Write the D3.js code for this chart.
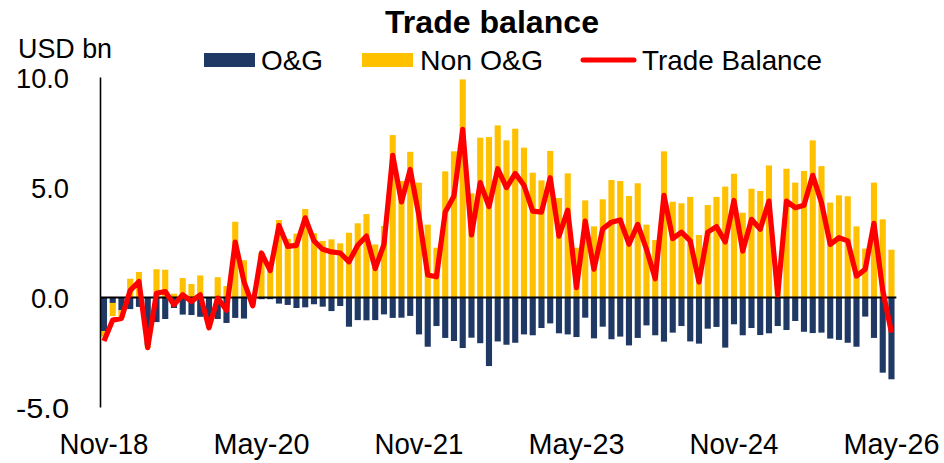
<!DOCTYPE html>
<html><head><meta charset="utf-8">
<script src="https://cdn.jsdelivr.net/npm/d3@7"></script>
<style>body{margin:0;background:#fff} svg{display:block}</style>
</head><body><svg id="c" width="944" height="463"></svg>
<script>
const months = [
 "Nov-18","Dec-18",
 "Jan-19","Feb-19","Mar-19","Apr-19","May-19","Jun-19","Jul-19","Aug-19","Sep-19","Oct-19","Nov-19","Dec-19",
 "Jan-20","Feb-20","Mar-20","Apr-20","May-20","Jun-20","Jul-20","Aug-20","Sep-20","Oct-20","Nov-20","Dec-20",
 "Jan-21","Feb-21","Mar-21","Apr-21","May-21","Jun-21","Jul-21","Aug-21","Sep-21","Oct-21","Nov-21","Dec-21",
 "Jan-22","Feb-22","Mar-22","Apr-22","May-22","Jun-22","Jul-22","Aug-22","Sep-22","Oct-22","Nov-22","Dec-22",
 "Jan-23","Feb-23","Mar-23","Apr-23","May-23","Jun-23","Jul-23","Aug-23","Sep-23","Oct-23","Nov-23","Dec-23",
 "Jan-24","Feb-24","Mar-24","Apr-24","May-24","Jun-24","Jul-24","Aug-24","Sep-24","Oct-24","Nov-24","Dec-24",
 "Jan-25","Feb-25","Mar-25","Apr-25","May-25","Jun-25","Jul-25","Aug-25","Sep-25","Oct-25","Nov-25","Dec-25",
 "Jan-26","Feb-26","Mar-26","Apr-26","May-26"];

const ogValues = [
 -1.55,-0.27,-0.60,-0.55,-0.45,-2.20,-1.14,-1.00,-0.50,-0.80,-0.82,-0.90,-1.00,-1.00,-1.18,-0.95,-0.98,-0.30,-0.10,-0.10,
 -0.30,-0.36,-0.50,-0.47,-0.33,-0.44,-0.64,-0.41,-1.35,-1.05,-1.06,-1.05,-0.79,-0.95,-0.94,-0.86,-1.70,-2.26,-1.32,-1.86,
 -2.00,-2.32,-1.85,-2.10,-3.14,-2.02,-2.17,-2.08,-1.70,-1.74,-1.41,-1.20,-1.65,-1.70,-1.82,-0.94,-1.88,-1.35,-1.92,-1.80,
 -2.20,-1.86,-1.29,-1.74,-2.03,-1.62,-1.32,-2.02,-2.12,-1.44,-1.36,-2.30,-1.24,-1.74,-1.41,-1.73,-1.65,-1.32,-1.50,-1.09,
 -1.58,-1.64,-1.62,-1.89,-1.95,-2.08,-2.26,-0.89,-1.86,-3.44,-3.74];

const nonOgValues = [
 -0.25,-0.60,-0.35,0.83,1.14,-0.10,1.26,1.24,0.15,0.86,0.59,0.98,-0.40,0.90,0.50,3.42,1.67,-0.10,2.00,1.30,
 3.50,2.64,2.88,4.00,2.90,2.55,2.62,2.44,2.92,3.35,3.77,2.39,3.23,7.36,5.27,6.60,5.20,3.29,2.24,5.71,
 6.62,9.89,4.71,7.24,7.27,7.80,7.12,7.65,6.79,5.65,5.30,6.64,4.50,5.62,2.24,4.39,3.21,4.44,5.32,5.27,
 4.59,5.17,3.29,2.59,6.62,4.33,4.26,4.55,2.82,4.18,4.55,5.02,5.60,3.83,4.92,4.82,5.98,1.40,5.83,5.20,
 5.73,7.12,5.95,4.29,4.62,4.58,3.21,2.20,5.20,3.53,2.15];

const balanceValues = [
 -2.00,-1.05,-0.97,0.30,0.70,-2.30,0.17,0.25,-0.35,0.10,-0.20,0.10,-1.40,-0.05,-0.60,2.50,0.70,-0.40,2.00,1.20,
 3.25,2.30,2.35,3.60,2.55,2.17,2.05,2.00,1.60,2.35,2.77,1.29,2.39,6.44,4.32,5.80,3.68,1.00,0.92,3.86,
 4.59,7.62,2.82,5.20,4.11,5.83,4.97,5.62,5.08,3.90,3.86,5.42,2.77,3.95,0.42,3.45,1.26,3.10,3.40,3.50,
 2.40,3.30,2.17,0.83,4.62,2.65,2.95,2.55,0.68,2.95,3.20,2.50,4.39,2.09,3.53,3.08,4.36,0.10,4.36,4.06,
 4.17,5.53,4.29,2.39,2.70,2.55,0.95,1.26,3.35,0.30,-1.62];

const yTickValues = [-5, 0, 5, 10];
const xLabelMonths = ["Nov-18","May-20","Nov-21","May-23","Nov-24","May-26"];
const seriesNames = ["O&G", "Non O&G", "Trade Balance"];
const colors = { og: "#203864", nonog: "#FFC000", line: "#FF0000" };
const FONT = "'Liberation Sans', Arial, sans-serif";

const svg = d3.select("#c");
const fitText = (sel, w) => sel.attr("textLength", w).attr("lengthAdjust", "spacingAndGlyphs");

const x = d3.scaleBand().domain(months).range([99.6, 99.6 + 91 * 8.75])
  .paddingInner(0.3).paddingOuter(0.15);
const y = d3.scaleLinear().domain([-5, 10]).range([407, 77]);

const rows = months.map((m, i) => ({ month: m, og: ogValues[i], nonog: nonOgValues[i] }));
const stacked = d3.stack().keys(["og", "nonog"]).offset(d3.stackOffsetDiverging)(rows);

// bars
svg.append("g").selectAll("g").data(stacked).join("g")
  .attr("fill", d => colors[d.key])
  .selectAll("rect").data(d => d).join("rect")
  .attr("x", d => x(d.data.month))
  .attr("width", x.bandwidth())
  .attr("y", d => y(Math.max(d[0], d[1])))
  .attr("height", d => Math.abs(y(d[0]) - y(d[1])));

// zero line
const zeroAxis = d3.axisBottom(x).tickValues([]).tickSizeOuter(0);
svg.append("g").attr("transform", `translate(0,${y(0)})`).call(zeroAxis)
  .select(".domain").attr("stroke", "#000").attr("stroke-width", 2);

// y axis
const yAxis = d3.axisLeft(y).tickValues(yTickValues).tickSize(0).tickSizeOuter(0)
  .tickPadding(31).tickFormat(d => d.toFixed(1));
const gy = svg.append("g").attr("transform", "translate(100,0)").call(yAxis);
gy.select(".domain").attr("stroke", "#000").attr("stroke-width", 1.6);
gy.selectAll("text").attr("font-family", FONT).attr("font-size", 27).attr("fill", "#000")
  .attr("dy", "0.38em")
  .each(function(d) { fitText(d3.select(this), d === 10 || d === -5 ? 53 : 38); });

// line
const line = d3.line().x((d, i) => x(months[i]) + x.bandwidth() / 2).y(d => y(d));
svg.append("path").datum(balanceValues).attr("d", line)
  .attr("fill", "none").attr("stroke", colors.line).attr("stroke-width", 5.2)
  .attr("stroke-linejoin", "round");

// x labels axis
const xAxis = d3.axisBottom(x).tickValues(xLabelMonths).tickSize(0).tickPadding(0);
const gx = svg.append("g").attr("transform", "translate(0,426)").call(xAxis);
gx.select(".domain").remove();
gx.selectAll("text").attr("font-family", FONT).attr("font-size", 29).attr("fill", "#000")
  .attr("dy", "0.95em")
  .each(function(d) { fitText(d3.select(this), d.startsWith("May") ? 96 : 89); });

// title
fitText(svg.append("text").attr("x", 492).attr("y", 33).attr("text-anchor", "middle")
  .attr("font-family", FONT).attr("font-weight", "bold").attr("font-size", 31)
  .text("Trade balance"), 214);

// unit
fitText(svg.append("text").attr("x", 18).attr("y", 58)
  .attr("font-family", FONT).attr("font-size", 27).text("USD bn"), 94);

// legend
const lg = svg.append("g");
lg.append("rect").attr("x", 204).attr("y", 53).attr("width", 51).attr("height", 14).attr("fill", colors.og);
fitText(lg.append("text").attr("x", 261).attr("y", 70).attr("font-family", FONT).attr("font-size", 28).text(seriesNames[0]), 62);
lg.append("rect").attr("x", 362).attr("y", 53).attr("width", 51).attr("height", 14).attr("fill", colors.nonog);
fitText(lg.append("text").attr("x", 420).attr("y", 70).attr("font-family", FONT).attr("font-size", 28).text(seriesNames[1]), 123);
lg.append("line").attr("x1", 583).attr("x2", 634).attr("y1", 60).attr("y2", 60)
  .attr("stroke", colors.line).attr("stroke-width", 5).attr("stroke-linecap", "round");
fitText(lg.append("text").attr("x", 642).attr("y", 70).attr("font-family", FONT).attr("font-size", 28).text(seriesNames[2]), 180);
</script></body></html>
